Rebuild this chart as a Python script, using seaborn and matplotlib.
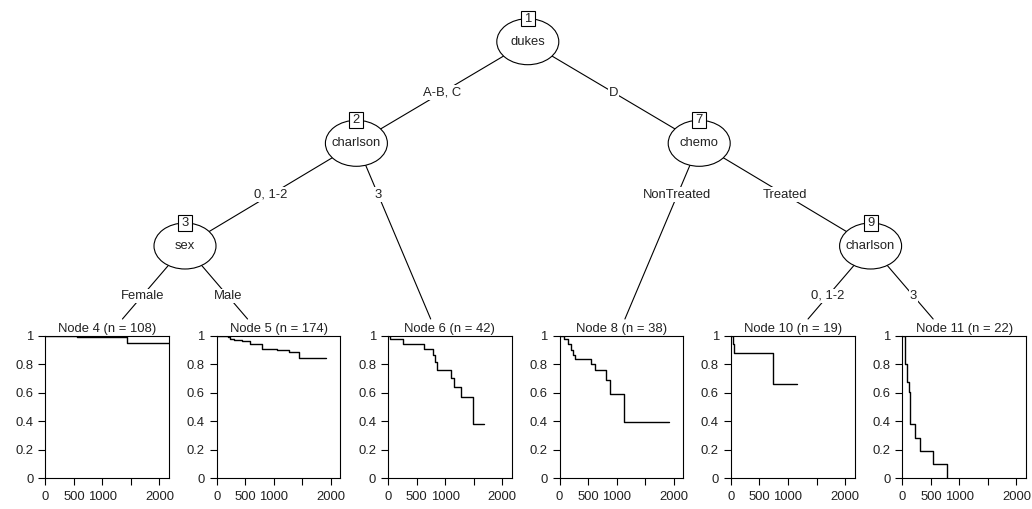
import numpy as np
import pandas as pd
import matplotlib
matplotlib.use("Agg")
import matplotlib.pyplot as plt
import seaborn as sns
from matplotlib.patches import Ellipse, Rectangle

# ---------------- data ----------------
inner_ids = [1, 2, 3, 7, 9]
inner_vars = ["dukes", "charlson", "sex", "chemo", "charlson"]

terminal_ids = [4, 5, 6, 8, 10, 11]
terminal_n = [108, 174, 42, 38, 19, 22]

edge_parent = [1, 1, 2, 2, 3, 3, 7, 7, 9, 9]
edge_child = [2, 7, 3, 6, 4, 5, 8, 9, 10, 11]
edge_label = ["A-B, C", "D", "0, 1-2", "3", "Female", "Male",
              "NonTreated", "Treated", "0, 1-2", "3"]

node4_time = [0, 550, 1430, 2165]
node4_surv = [1.0, 0.990, 0.949, 0.949]

node5_time = [0, 190, 230, 300, 440, 590, 800, 1060, 1260, 1440, 1920]
node5_surv = [1.0, 0.990, 0.980, 0.975, 0.965, 0.942, 0.912, 0.903, 0.885, 0.847, 0.847]

node6_time = [0, 40, 265, 630, 780, 830, 860, 1100, 1160, 1275, 1480, 1680]
node6_surv = [1.0, 0.977, 0.942, 0.911, 0.864, 0.820, 0.759, 0.706, 0.643, 0.568, 0.379, 0.379]

node8_time = [0, 76, 146, 193, 234, 263, 544, 614, 819, 878, 1123, 1920]
node8_surv = [1.0, 0.977, 0.946, 0.905, 0.869, 0.841, 0.806, 0.764, 0.689, 0.589, 0.393, 0.393]

node10_time = [0, 41, 59, 740, 1154]
node10_surv = [1.0, 0.946, 0.880, 0.661, 0.661]

node11_time = [0, 53, 89, 112, 130, 142, 231, 308, 545, 781]
node11_surv = [1.0, 0.806, 0.678, 0.603, 0.456, 0.381, 0.285, 0.192, 0.100, 0.0]

curves = {4: (node4_time, node4_surv), 5: (node5_time, node5_surv),
          6: (node6_time, node6_surv), 8: (node8_time, node8_surv),
          10: (node10_time, node10_surv), 11: (node11_time, node11_surv)}

y_ticks = [0, 0.2, 0.4, 0.6, 0.8, 1.0]
y_ticklabels = ["0", "0.2", "0.4", "0.6", "0.8", "1"]
x_ticks = [0, 500, 1000, 1500, 2000]
x_ticklabels = ["0", "500", "1000", "", "2000"]

# ---------------- layout ----------------
W, H = 1032, 509
slot0, slot_w = 13.6, 171.4
level_y = [41.7, 143.3, 246.0, 346.0]
term_top = 319.0
FS = 9.4

children = {}
for p, c in zip(edge_parent, edge_child):
    children.setdefault(p, []).append(c)

pos = {}
depth = {}
term_order = {tid: i for i, tid in enumerate(terminal_ids)}


def layout(node, d):
    depth[node] = d
    if node in term_order:
        i = term_order[node]
        pos[node] = (slot0 + (i + 0.5) * slot_w, level_y[3])
        return i, i + 1
    lo, hi = None, None
    bounds = []
    for c in children[node]:
        b = layout(c, d + 1)
        bounds.append(b)
    # node placed at boundary between first child's range and rest
    x = slot0 + bounds[0][1] * slot_w
    pos[node] = (x, level_y[d])
    return bounds[0][0], bounds[-1][1]


layout(1, 0)

sns.set_theme(style="ticks")
plt.rcParams["font.family"] = ["Liberation Sans", "DejaVu Sans"]

fig = plt.figure(figsize=(W / 100, H / 100), dpi=100)
ov = fig.add_axes([0, 0, 1, 1], zorder=0)
ov.set_xlim(0, W)
ov.set_ylim(H, 0)
ov.axis("off")

# edges
for p, c, lab in zip(edge_parent, edge_child, edge_label):
    x0, y0 = pos[p]
    x1, y1 = pos[c]
    if c in term_order:
        t = (term_top - y0) / (y1 - y0)
        xe, ye = x0 + t * (x1 - x0), term_top
    else:
        xe, ye = x1, y1
    ov.plot([x0, xe], [y0, ye], color="black", lw=0.8, zorder=1)
    ly = (level_y[depth[p]] + level_y[depth[p] + 1]) / 2
    lx = x0 + (ly - y0) / (y1 - y0) * (x1 - x0)
    ov.text(lx, ly, lab, ha="center", va="center", fontsize=FS, color="#222222",
            zorder=3, bbox=dict(facecolor="white", edgecolor="none", pad=0.8))

# inner nodes
for nid, var in zip(inner_ids, inner_vars):
    x, y = pos[nid]
    ov.add_patch(Ellipse((x, y), 62, 46, facecolor="white", edgecolor="black",
                         lw=0.8, zorder=4))
    ov.text(x, y, var, ha="center", va="center", fontsize=FS, color="#222222", zorder=5)
    ov.add_patch(Rectangle((x - 7, y - 23 - 8), 14, 15.5, facecolor="white",
                           edgecolor="black", lw=0.8, zorder=6))
    ov.text(x, y - 23, str(nid), ha="center", va="center", fontsize=FS,
            color="#222222", zorder=7)

# terminal panels
xmax = 2165
box_top, box_bot = 336.0, 478.3
for tid, n in zip(terminal_ids, terminal_n):
    xc = pos[tid][0]
    left = xc - 54.0
    width = 123.6
    ax = fig.add_axes([left / W, (H - box_bot) / H, width / W, (box_bot - box_top) / H],
                      zorder=2)
    tt, ss = curves[tid]
    df = pd.DataFrame({"time": tt, "surv": ss})
    sns.lineplot(data=df, x="time", y="surv", ax=ax, color="black", lw=1.0,
                 drawstyle="steps-post", estimator=None, sort=False)
    ax.set_xlim(0, xmax)
    ax.set_ylim(0, 1)
    ax.set_xticks(x_ticks)
    ax.set_xticklabels(x_ticklabels)
    ax.set_yticks(y_ticks)
    ax.set_yticklabels(y_ticklabels)
    ax.set_xlabel("")
    ax.set_ylabel("")
    ax.tick_params(axis="both", direction="out", length=5, width=0.8,
                   labelsize=FS, colors="black", labelcolor="#222222")
    ax.tick_params(axis="y", pad=3.6)
    ax.tick_params(axis="x", pad=4.0)
    for s in ax.spines.values():
        s.set_visible(True)
        s.set_color("black")
        s.set_linewidth(0.8)
    ax.set_facecolor("white")
    ov.text(left + width / 2, 329, f"Node {tid} (n = {n})", ha="center", va="center",
            fontsize=FS, color="#222222", zorder=3)

fig.savefig("out.png", dpi=100)
